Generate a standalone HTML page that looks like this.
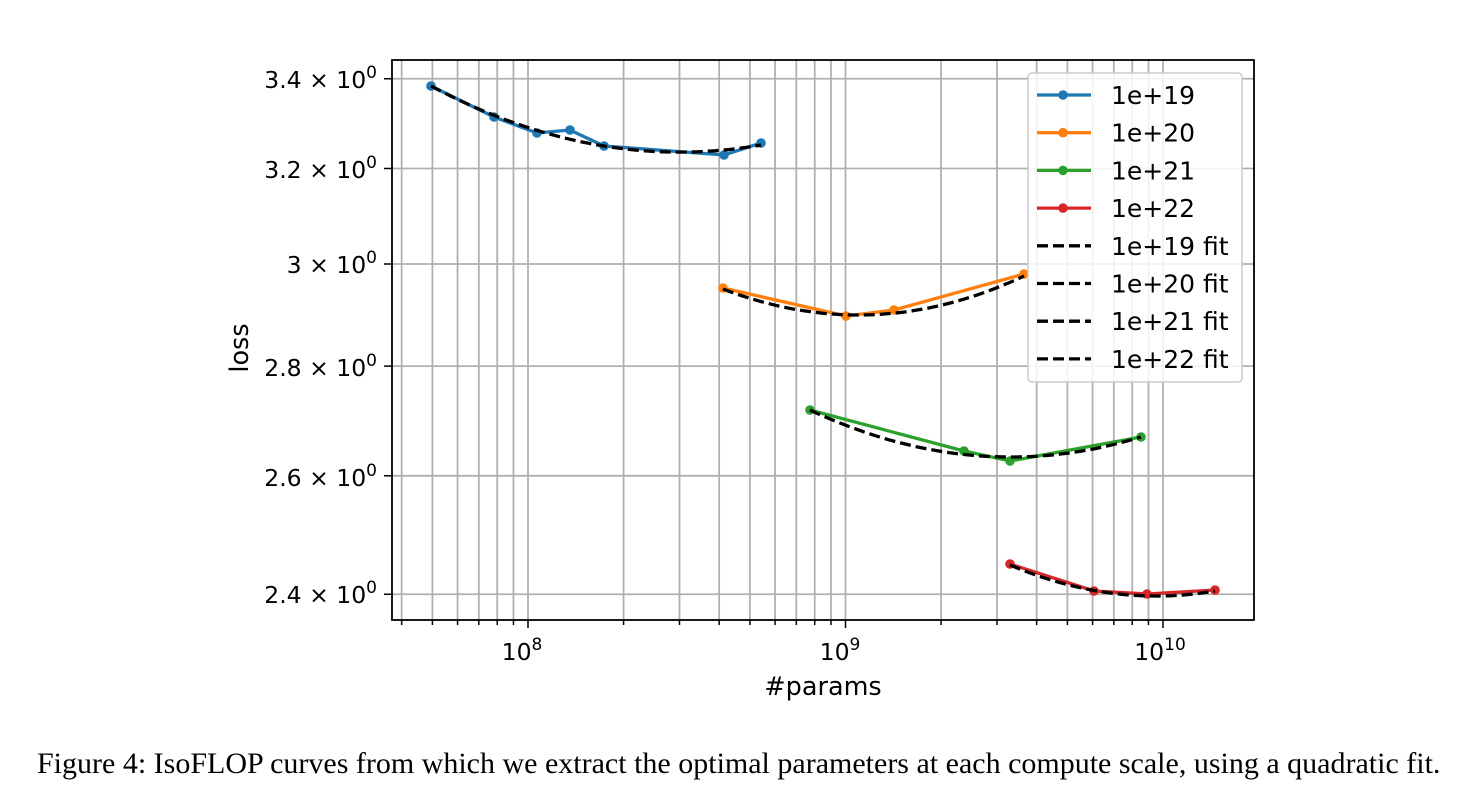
<!DOCTYPE html>
<html><head><meta charset="utf-8"><style>
body{margin:0;background:#fff;width:1474px;height:794px;overflow:hidden}
svg{position:absolute;left:0;top:0}
text{font-family:"DejaVu Sans","Liberation Sans",sans-serif;fill:#000}
</style></head><body>
<svg id="s" width="1474" height="794" xmlns="http://www.w3.org/2000/svg">
<g id="grid" stroke="#b0b0b0" stroke-width="1.8"></g>
<g id="ser"></g>
<rect x="392" y="60" width="862" height="560" fill="none" stroke="#000" stroke-width="1.8"/>
<g id="ticks" stroke="#000" stroke-width="1.5"></g>
<g font-size="23.5">
<text x="377" y="88" text-anchor="end">3.4 × 10<tspan dy="-10" font-size="17">0</tspan></text>
<text x="377" y="178" text-anchor="end">3.2 × 10<tspan dy="-10" font-size="17">0</tspan></text>
<text x="377" y="273" text-anchor="end">3 × 10<tspan dy="-10" font-size="17">0</tspan></text>
<text x="377" y="376" text-anchor="end">2.8 × 10<tspan dy="-10" font-size="17">0</tspan></text>
<text x="377" y="486" text-anchor="end">2.6 × 10<tspan dy="-10" font-size="17">0</tspan></text>
<text x="377" y="603" text-anchor="end">2.4 × 10<tspan dy="-10" font-size="17">0</tspan></text>
<text x="522" y="660" text-anchor="middle">10<tspan dy="-10" font-size="17">8</tspan></text>
<text x="840" y="660" text-anchor="middle">10<tspan dy="-10" font-size="17">9</tspan></text>
<text x="1160" y="660" text-anchor="middle">10<tspan dy="-10" font-size="17">10</tspan></text>
</g>
<text x="823" y="695" text-anchor="middle" font-size="25.5">#params</text>
<text transform="translate(248,348) rotate(-90)" text-anchor="middle" font-size="25.5">loss</text>
<rect x="1028" y="73" width="214" height="309" rx="4" fill="#fff" fill-opacity="0.85" stroke="#ccc" stroke-width="1.5"/>
<g id="leg" font-size="25"></g>
<text x="37" y="773" font-size="30" style="font-family:'Liberation Serif',serif">Figure 4: IsoFLOP curves from which we extract the optimal parameters at each compute scale, using a quadratic fit.</text>
</svg>
<script>
const NS="http://www.w3.org/2000/svg";
function el(p,t,a){const e=document.createElementNS(NS,t);for(const k in a)e.setAttribute(k,a[k]);p.appendChild(e);return e;}
const X=v=>528+(Math.log10(v)-8)*317.5, Y=v=>264-Math.log(v/3)*1480;
const g=document.getElementById('grid'),tk=document.getElementById('ticks');
for(let e=7;e<=10;e++)for(let m=1;m<10;m++){const v=m*Math.pow(10,e);const x=X(v);if(x<393||x>1253)continue;
 el(g,'line',{x1:x,x2:x,y1:60,y2:620});el(tk,'line',{x1:x,x2:x,y1:620,y2:m==1?628:625});}
[2.4,2.6,2.8,3,3.2,3.4].forEach(v=>{const y=Y(v);el(g,'line',{x1:392,x2:1254,y1:y,y2:y});el(tk,'line',{x1:384,x2:392,y1:y,y2:y});});
const s=document.getElementById('ser');
const data=[
['#1f77b4',[[431,86],[494,117],[537,133],[570,130],[604,146],[724,155],[761,143]],[[431,86],[690,152],[761,145]]],
['#ff7f0e',[[723,288],[846,316],[894,310],[1024,274]],[[723,289],[860,315],[1024,276]]],
['#2ca02c',[[810,410],[964,451],[1010,461],[1141,437]],[[810,410],[1010,457],[1141,437]]],
['#d62728',[[1010,564],[1094,591],[1147,594],[1215,590]],[[1010,565],[1150,596],[1215,591]]]];
function para(p){const[[x0,y0],[x1,y1],[x2,y2]]=p;const pts=[];for(let i=0;i<=50;i++){const x=x0+(x2-x0)*i/50;
 const y=y0*((x-x1)*(x-x2))/((x0-x1)*(x0-x2))+y1*((x-x0)*(x-x2))/((x1-x0)*(x1-x2))+y2*((x-x0)*(x-x1))/((x2-x0)*(x2-x1));pts.push(x.toFixed(1)+','+y.toFixed(1));}return pts.join(' ');}
data.forEach(d=>{el(s,'polyline',{points:d[1].map(p=>p.join(',')).join(' '),fill:'none',stroke:d[0],'stroke-width':3.3});
 d[1].forEach(p=>el(s,'circle',{cx:p[0],cy:p[1],r:4.8,fill:d[0]}));});
data.forEach(d=>el(s,'polyline',{points:para(d[2]),fill:'none',stroke:'#000','stroke-width':3.3,'stroke-dasharray':'11,5'}));
const lg=document.getElementById('leg');
const labs=['1e+19','1e+20','1e+21','1e+22','1e+19 fit','1e+20 fit','1e+21 fit','1e+22 fit'];
labs.forEach((l,i)=>{const y=95+i*37.7;
 if(i<4){el(lg,'line',{x1:1037,x2:1091,y1:y,y2:y,stroke:data[i][0],'stroke-width':3.3});el(lg,'circle',{cx:1063,cy:y,r:4.8,fill:data[i][0]});}
 else el(lg,'line',{x1:1037,x2:1091,y1:y,y2:y,stroke:'#000','stroke-width':3.3,'stroke-dasharray':'11,5'});
 const t=el(lg,'text',{x:1111,y:y+9});t.textContent=l;});
</script>
</body></html>
